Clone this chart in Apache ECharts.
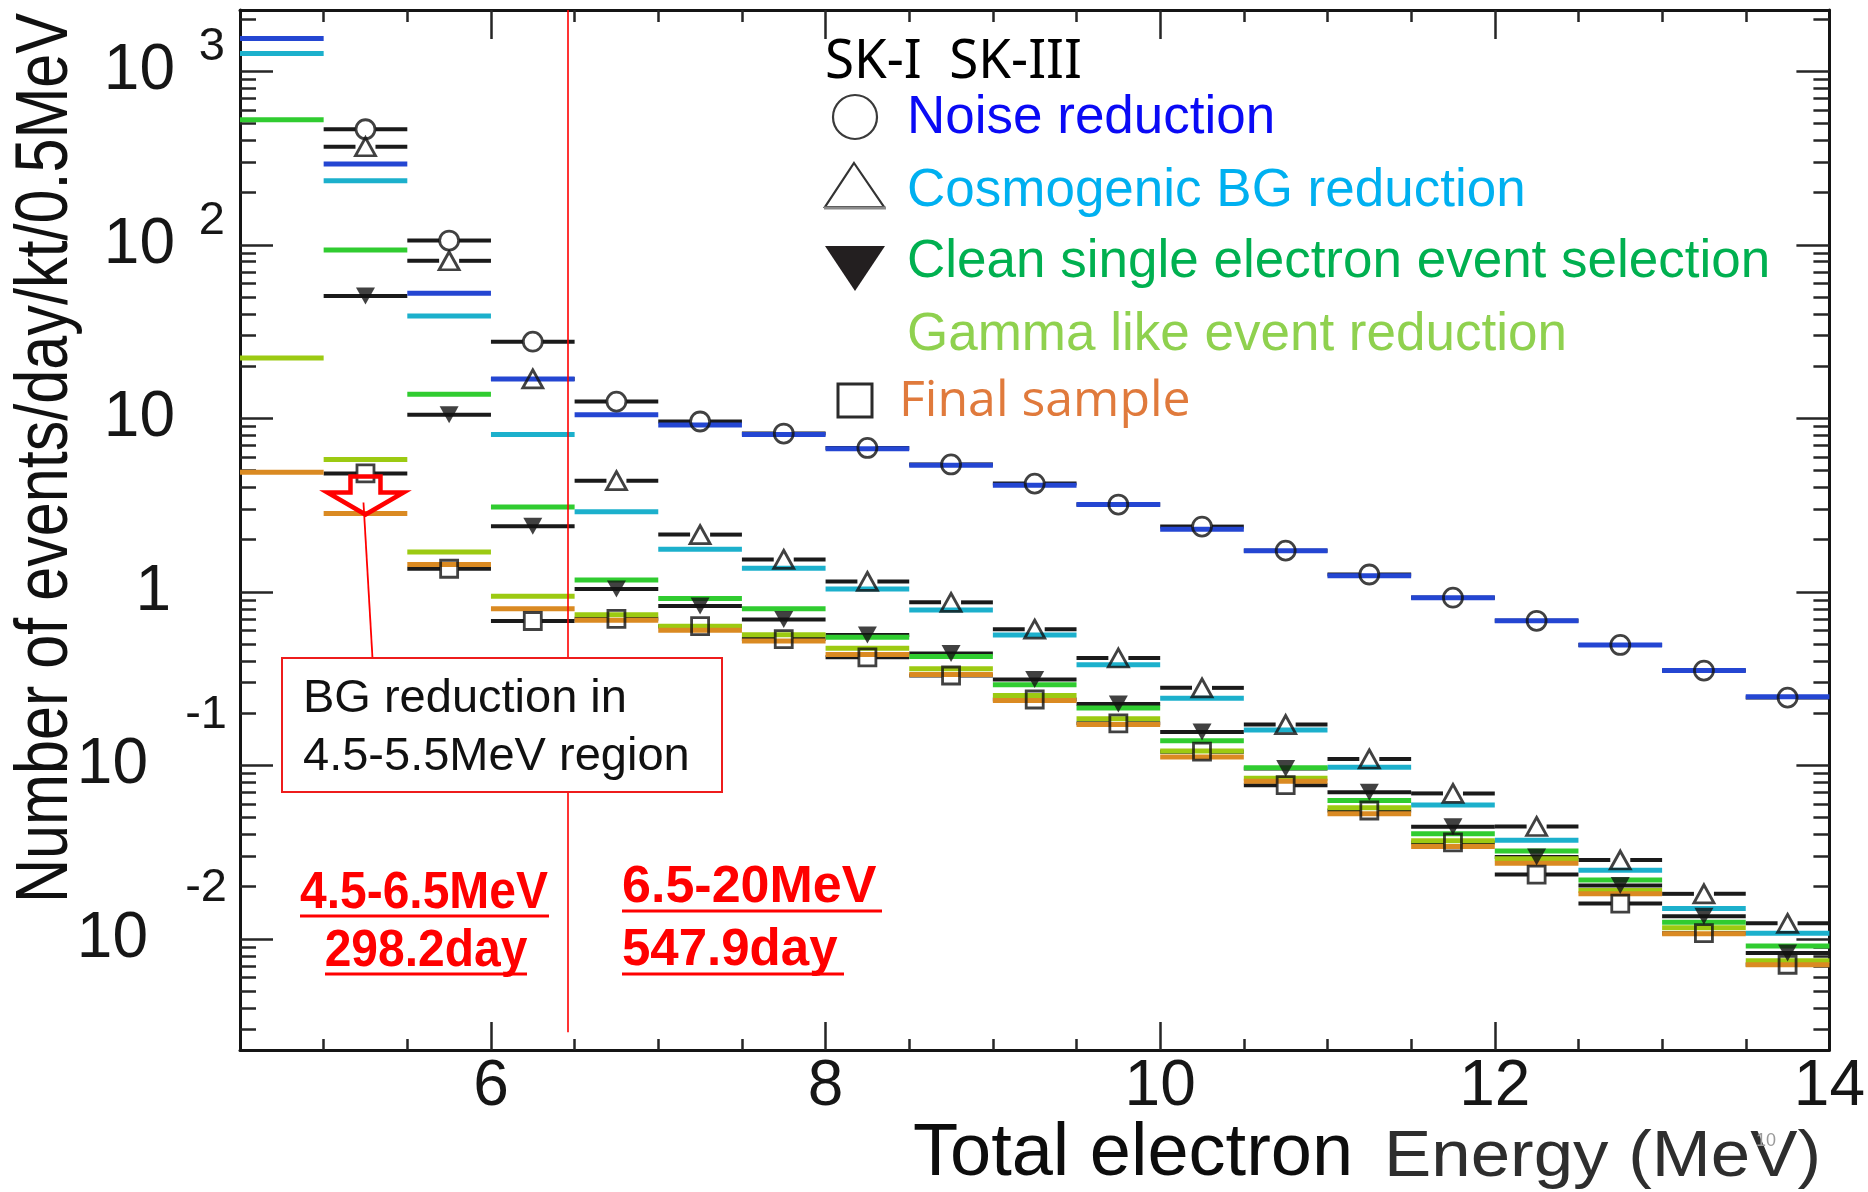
<!DOCTYPE html>
<html>
<head>
<meta charset="utf-8">
<title>SK-I / SK-III reduction steps</title>
<script src="https://cdn.jsdelivr.net/npm/echarts@6/dist/echarts.min.js"></script>
<style>
  html, body { margin: 0; padding: 0; background: #ffffff; }
  #chart { width: 1868px; height: 1192px; }
</style>
</head>
<body>
<div id="chart"></div>
<script>
// ---- Energy binning (MeV): 0.5 MeV bins from 4.5 to 14 ----
const binEdges = [4.5, 5, 5.5, 6, 6.5, 7, 7.5, 8, 8.5, 9, 9.5, 10, 10.5, 11, 11.5, 12, 12.5, 13, 13.5, 14];

// ---- SK-I (black bars with markers), events/day/kt/0.5MeV; no 4.5-5.0 MeV bin ----
const noiseSK1 = [null, 464, 106, 27.7, 12.5, 9.6, 8.18, 6.76, 5.43, 4.21, 3.19, 2.38, 1.73, 1.26, 0.927, 0.682, 0.495, 0.352, 0.246];
const cosmoSK1 = [null, 368, 81, 16.9, 4.38, 2.14, 1.54, 1.15, 0.871, 0.610, 0.416, 0.280, 0.172, 0.109, 0.0690, 0.0445, 0.0285, 0.0182, 0.0123];
const cleanSK1 = [null, 50.8, 10.5, 2.39, 1.04, 0.83, 0.693, 0.565, 0.442, 0.313, 0.226, 0.156, 0.096, 0.070, 0.0443, 0.0297, 0.0203, 0.0135, 0.0083];
const finalSK1 = [null, 4.82, 1.36, 0.680, 0.70, 0.635, 0.535, 0.42, 0.33, 0.24, 0.175, 0.12, 0.077, 0.055, 0.036, 0.0235, 0.016, 0.0108, 0.0071];

// ---- SK-III (coloured bars) ----
const noiseSK3 = [1550, 293, 52.6, 16.9, 10.5, 9.16, 8.07, 6.69, 5.37, 4.12, 3.19, 2.30, 1.73, 1.24, 0.927, 0.682, 0.495, 0.352, 0.249];
const cosmoSK3 = [1270, 234, 38.9, 8.09, 2.90, 1.76, 1.37, 1.04, 0.787, 0.565, 0.380, 0.244, 0.160, 0.0975, 0.0592, 0.0370, 0.0249, 0.0150, 0.0108];
const cleanSK3 = [526, 93.5, 13.8, 3.09, 1.17, 0.916, 0.80, 0.548, 0.425, 0.292, 0.214, 0.139, 0.097, 0.0629, 0.0404, 0.0321, 0.0219, 0.0125, 0.0091];
const gammaSK3 = [22.3, 5.79, 1.70, 0.944, 0.740, 0.634, 0.567, 0.473, 0.361, 0.253, 0.186, 0.121, 0.0845, 0.0571, 0.0368, 0.029, 0.0190, 0.0116, 0.0075];
const finalSK3 = [4.9, 2.83, 1.44, 0.80, 0.687, 0.601, 0.521, 0.436, 0.334, 0.237, 0.172, 0.112, 0.0811, 0.0526, 0.0341, 0.0273, 0.0182, 0.0107, 0.0071];

// ---- BG reduction in the 4.5-5.5 MeV region: arrow at bin centre, from -> to ----
const bgArrow = [[5.25, 4.82, 2.83]];

// ---- Analysis-period divider and period labels ----
const dividerEnergy = 6.46;
const periodLow = ['4.5-6.5MeV', '298.2day'];
const periodHigh = ['6.5-20MeV', '547.9day'];

// ---- Axis ranges and tick values ----
const xMin = 4.5, xMax = 14;
const yMin = 0.002291, yMax = 2259;
const xMinorTicks = [5, 5.5, 6.5, 7, 7.5, 8.5, 9, 9.5, 10.5, 11, 11.5, 12.5, 13, 13.5];
const xMajorTicks = [6, 8, 10, 12];
const xTickLabels = [6, 8, 10, 12, 14];
const yDecades = [0.01, 0.1, 1, 10, 100, 1000];
const yExponentLabels = [0.01, 0.1, 100, 1000];
const yMinorTicks = [];
for (let e = -3; e <= 3; e++) {
  for (let m = 2; m <= 9; m++) {
    const v = m * Math.pow(10, e);
    if (v > yMin && v < yMax) yMinorTicks.push(+v.toPrecision(3));
  }
}

// ---- Colours ----
const C = {
  black: '#1a1a1a',
  noise: '#2446d2',
  cosmo: '#1cb0cc',
  clean: '#30cc30',
  gamma: '#9cca12',
  final: '#da8a22',
  red: '#ff0000'
};

function binData(vals) {
  const out = [];
  vals.forEach((v, i) => { if (v != null) out.push([binEdges[i], binEdges[i + 1], v]); });
  return out;
}
function centreData(vals) {
  const out = [];
  vals.forEach((v, i) => { if (v != null) out.push([(binEdges[i] + binEdges[i + 1]) / 2, v]); });
  return out;
}

// Horizontal bin bars; SK-I bars leave a gap around the marker
function barSeries(name, vals, color, width, gap, z) {
  return {
    type: 'custom', name, z, silent: true,
    data: binData(vals),
    encode: { x: [0, 1], y: 2 },
    renderItem(params, api) {
      const v = api.value(2);
      const a = api.coord([api.value(0), v]);
      const b = api.coord([api.value(1), v]);
      const style = { stroke: color, lineWidth: width, fill: null };
      if (!gap) {
        return { type: 'line', shape: { x1: a[0], y1: a[1], x2: b[0], y2: b[1] }, style };
      }
      const mid = (a[0] + b[0]) / 2;
      return {
        type: 'group',
        children: [
          { type: 'line', shape: { x1: a[0], y1: a[1], x2: mid - gap, y2: a[1] }, style },
          { type: 'line', shape: { x1: mid + gap, y1: a[1], x2: b[0], y2: b[1] }, style }
        ]
      };
    }
  };
}

function markerSeries(name, vals, symbol, size, filled, rotate) {
  return {
    type: 'scatter', name, z: 6, silent: true,
    data: centreData(vals),
    symbol, symbolSize: size, symbolRotate: rotate || 0,
    itemStyle: filled
      ? { color: '#121212', borderWidth: 0 }
      : { color: 'rgba(255,255,255,0)', borderColor: '#121212', borderWidth: 2.8 }
  };
}

const tickLine = { color: '#262626', width: 2.5 };
const frameLine = { show: true, onZero: false, lineStyle: { color: '#151515', width: 3 } };
const labelFont = 'Liberation Sans';

function xAxisDef(position, ticks, len, withLine, withLabels) {
  return {
    type: 'value', position, min: xMin, max: xMax,
    axisLine: withLine ? frameLine : { show: false, onZero: false },
    axisTick: { show: true, inside: true, length: len, customValues: ticks, lineStyle: tickLine },
    axisLabel: withLabels ? {
      show: true, customValues: xTickLabels, margin: 5,
      fontFamily: labelFont, fontSize: 64, color: '#161616',
      showMinLabel: true, showMaxLabel: true,
      formatter: v => String(v)
    } : { show: false },
    splitLine: { show: false }
  };
}

function yAxisDef(position, ticks, len, withLine, label) {
  return {
    type: 'log', logBase: 10, position, min: yMin, max: yMax,
    axisLine: withLine ? frameLine : { show: false, onZero: false },
    axisTick: { show: true, inside: true, length: len, customValues: ticks, lineStyle: tickLine },
    axisLabel: label || { show: false },
    splitLine: { show: false },
    minorTick: { show: false }
  };
}

const decadeLabel = {
  show: true, customValues: yDecades, margin: 65,
  showMinLabel: true, showMaxLabel: true,
  formatter(v) {
    const e = Math.round(Math.log10(v));
    if (e === 0) return '{one|1}';
    return e < 0 ? '{neg|10}' : '{pos|10}';
  },
  rich: {
    pos: { fontFamily: labelFont, fontSize: 64, color: '#161616' },
    one: { fontFamily: labelFont, fontSize: 64, color: '#161616', padding: [0, 4, 0, 0] },
    neg: { fontFamily: labelFont, fontSize: 64, color: '#161616', padding: [0, 27, 0, 0] }
  }
};

const exponentLabel = {
  show: true, customValues: yExponentLabels, margin: 13,
  showMinLabel: true, showMaxLabel: true,
  formatter(v) {
    const e = Math.round(Math.log10(v));
    return e < 0 ? '{m|' + e + '}' : '{p|' + e + '}';
  },
  rich: {
    p: { fontFamily: labelFont, fontSize: 47, color: '#161616', padding: [0, 2, 48, 0] },
    m: { fontFamily: labelFont, fontSize: 47, color: '#161616', padding: [0, 0, 101, 0] }
  }
};

// ---- Legend, annotations and axis titles ----
function txt(text, x, y, opts) {
  return {
    type: 'text', x, y, z: 20, silent: true,
    rotation: opts.rotation || 0,
    scaleX: opts.scaleX || 1,
    style: {
      text,
      fill: opts.color || '#111',
      font: opts.font,
      align: opts.align || 'left', textAlign: opts.align || 'left',
      verticalAlign: 'middle', textVerticalAlign: 'middle'
    }
  };
}
function hline(x1, x2, y, color, w) {
  return { type: 'line', z: 20, silent: true, shape: { x1, y1: y, x2, y2: y }, style: { stroke: color, lineWidth: w } };
}

const legendFont = '53px "Liberation Sans"';
const graphics = [
  // legend
  txt('SK-I  SK-III', 825, 63, { font: '54px "Noto Sans"', color: '#000', scaleX: 0.98 }),
  { type: 'circle', z: 20, silent: true, shape: { cx: 855, cy: 117, r: 22 }, style: { fill: 'none', stroke: '#3a3a3a', lineWidth: 2.2 } },
  txt('Noise reduction', 907, 118, { font: legendFont, color: '#0a0af5' }),
  { type: 'polygon', z: 20, silent: true, shape: { points: [[854, 163], [884, 207], [825, 207]] }, style: { fill: 'none', stroke: '#333', lineWidth: 2.2 } },
  hline(824, 886, 208, '#8a8a8a', 3),
  txt('Cosmogenic BG reduction', 907, 191, { font: legendFont, color: '#00b0f0' }),
  { type: 'polygon', z: 20, silent: true, shape: { points: [[825, 246], [885, 246], [855, 291]] }, style: { fill: '#231f20' } },
  txt('Clean single electron event selection', 907, 262, { font: legendFont, color: '#00b050' }),
  txt('Gamma like event reduction', 907, 335, { font: legendFont, color: '#8fd14f' }),
  { type: 'rect', z: 20, silent: true, shape: { x: 838, y: 384, width: 34, height: 33 }, style: { fill: 'none', stroke: '#2b2b2b', lineWidth: 3 } },
  txt('Final sample', 899, 402, { font: '50px "Open Sans"', color: '#e07a3c' }),

  // BG reduction note
  { type: 'rect', z: 15, silent: true, shape: { x: 282, y: 658, width: 440, height: 134 }, style: { fill: '#ffffff', stroke: '#ee1c1c', lineWidth: 2 } },
  txt('BG reduction in', 303, 699, { font: '47px "Liberation Sans"', color: '#111' }),
  txt('4.5-5.5MeV region', 303, 757, { font: '47px "Liberation Sans"', color: '#111' }),

  // analysis periods
  txt(periodLow[0], 424, 894, { font: 'bold 51px "Liberation Sans"', color: C.red, align: 'center', scaleX: 0.94 }),
  hline(300, 549, 916, C.red, 3),
  txt(periodLow[1], 426, 952, { font: 'bold 51px "Liberation Sans"', color: C.red, align: 'center', scaleX: 0.94 }),
  hline(325, 527, 974, C.red, 3),
  txt(periodHigh[0], 622, 888, { font: 'bold 51px "Liberation Sans"', color: C.red, scaleX: 1.02 }),
  hline(622, 882, 911, C.red, 3),
  txt(periodHigh[1], 622, 951, { font: 'bold 51px "Liberation Sans"', color: C.red, scaleX: 1.0 }),
  hline(622, 844, 974, C.red, 3),

  // axis titles
  txt('Number of events/day/kt/0.5MeV', 47, 458, { font: '74px "Liberation Sans"', color: '#111', align: 'center', rotation: Math.PI / 2, scaleX: 0.826 }),
  txt('Total electron', 913, 1155, { font: '74px "Liberation Sans"', color: '#0d0d0d' }),
  txt('Energy (MeV)', 1384, 1158, { font: '65px "Liberation Sans"', color: '#2e2e2e', scaleX: 1.09 }),
  txt('10', 1766, 1141, { font: '18px "Liberation Sans"', color: '#9a9a9a', align: 'center' })
];

const option = {
  animation: false,
  backgroundColor: '#ffffff',
  grid: { left: 240, right: 38, top: 10, bottom: 142, containLabel: false },
  xAxis: [
    xAxisDef('bottom', xMinorTicks, 11, true, true),
    xAxisDef('bottom', xMajorTicks, 28, false, false),
    xAxisDef('top', xMinorTicks, 12, true, false),
    xAxisDef('top', xMajorTicks, 29, false, false)
  ],
  yAxis: [
    yAxisDef('left', yDecades, 33, true, decadeLabel),
    yAxisDef('left', yMinorTicks, 16, false, exponentLabel),
    yAxisDef('right', yDecades, 33, true, null),
    yAxisDef('right', yMinorTicks, 16, false, null)
  ],
  series: [
    // SK-I bars
    barSeries('Noise reduction SK-I', noiseSK1, C.black, 4, 10, 2),
    barSeries('Cosmogenic BG reduction SK-I', cosmoSK1, C.black, 4, 10, 2),
    barSeries('Clean single electron event selection SK-I', cleanSK1, C.black, 4, 0, 2),
    barSeries('Final sample SK-I', finalSK1, C.black, 4, 9, 2),
    // SK-III bars
    barSeries('Noise reduction SK-III', noiseSK3, C.noise, 5, 0, 3),
    barSeries('Cosmogenic BG reduction SK-III', cosmoSK3, C.cosmo, 5, 0, 3),
    barSeries('Clean single electron event selection SK-III', cleanSK3, C.clean, 5, 0, 3),
    barSeries('Gamma like event reduction SK-III', gammaSK3, C.gamma, 5, 0, 3),
    barSeries('Final sample SK-III', finalSK3, C.final, 5, 0, 3),
    // SK-I markers
    markerSeries('Noise reduction SK-I marker', noiseSK1, 'circle', 19, false),
    markerSeries('Cosmogenic BG reduction SK-I marker', cosmoSK1, 'triangle', [20, 18], false),
    markerSeries('Clean single electron event selection SK-I marker', cleanSK1, 'triangle', [19, 17], true, 180),
    markerSeries('Final sample SK-I marker', finalSK1, 'rect', 17, false),
    // BG-reduction arrow with leader line to the note box
    {
      type: 'custom', name: 'BG reduction arrow', z: 8, silent: true,
      data: bgArrow,
      encode: { x: 0, y: [1, 2] },
      renderItem(params, api) {
        const x = api.value(0);
        const top = api.coord([x, api.value(1)]);
        const tip = api.coord([x, api.value(2)]);
        const cx = top[0], y0 = top[1] + 3, y2 = tip[1] + 1, yw = y2 - 22;
        const sw = 15, hw = 38;
        return {
          type: 'group',
          children: [
            {
              type: 'polygon',
              shape: { points: [[cx - sw, y0], [cx + sw, y0], [cx + sw, yw], [cx + hw, yw], [cx, y2], [cx - hw, yw], [cx - sw, yw]] },
              style: { fill: 'none', stroke: C.red, lineWidth: 4.5, lineJoin: 'miter' }
            },
            { type: 'line', shape: { x1: cx - 2, y1: y2 - 12, x2: cx + 7, y2: 658 }, style: { stroke: C.red, lineWidth: 1.8 } }
          ]
        };
      }
    },
    // divider between the two analysis periods
    {
      type: 'line', name: 'period divider', data: [], silent: true, z: 1,
      symbol: 'none',
      markLine: {
        silent: true, symbol: ['none', 'none'], label: { show: false },
        lineStyle: { color: C.red, width: 1.6, type: 'solid' },
        data: [[{ coord: [dividerEnergy, yMax] }, { coord: [dividerEnergy, 0.0029] }]]
      }
    }
  ],
  graphic: { elements: graphics }
};

const chart = echarts.init(document.getElementById('chart'), null, { renderer: 'canvas', width: 1868, height: 1192 });
chart.setOption(option);
</script>
</body>
</html>
